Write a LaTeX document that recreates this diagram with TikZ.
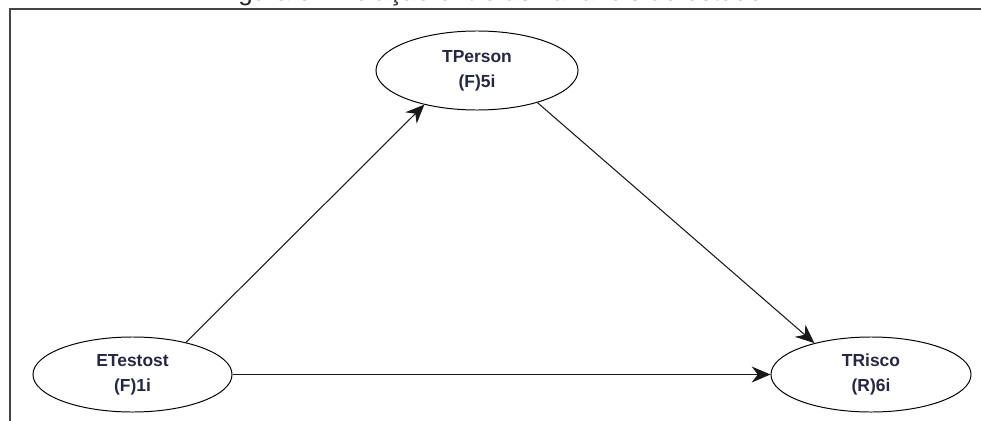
\documentclass[tikz,border=0pt]{standalone}
\usepackage{fontspec}
\setmainfont{Liberation Sans}
\usetikzlibrary{shapes.geometric, arrows.meta}
\definecolor{lbltext}{HTML}{262645}
\definecolor{framegray}{HTML}{454545}
\tikzstyle{latent} = [ellipse, draw=black, line width=0.7pt, minimum width=5cm, minimum height=1.875cm, inner sep=0pt, align=center, text=lbltext, font=\fontsize{12.4}{17.8}\selectfont\bfseries]
\tikzstyle{arrow} = [line width=0.75pt, draw=black!90, -{Stealth[length=0.47cm, width=0.4cm]}]

\begin{document}
\begin{tikzpicture}[x=0.025cm, y=-0.025cm]
\useasboundingbox (0,0) rectangle (981,421);
\node (caption) [anchor=base, font=\fontsize{18.5}{22}\selectfont, text=black!85] at (490,1) {Figura 5 - Relação entre as variáveis do estudo};
\draw [framegray, line width=1.4pt] (10,421) -- (10,9) -- (981,9);

\node (tperson) [latent, minimum width=5.05cm, minimum height=1.975cm] at (477,70.5) {TPerson\\(F)5i};
\node (etestost) [latent, minimum width=4.975cm] at (132.5,374.5) {ETestost\\(F)1i};
\node (trisco) [latent] at (871,374.5) {TRisco\\(R)6i};

\draw [arrow] (etestost.31) -- (tperson.213);
\draw [arrow] (tperson.-28) -- (trisco.151);
\draw [arrow] (etestost.east) -- (trisco.west);
\end{tikzpicture}
\end{document}
